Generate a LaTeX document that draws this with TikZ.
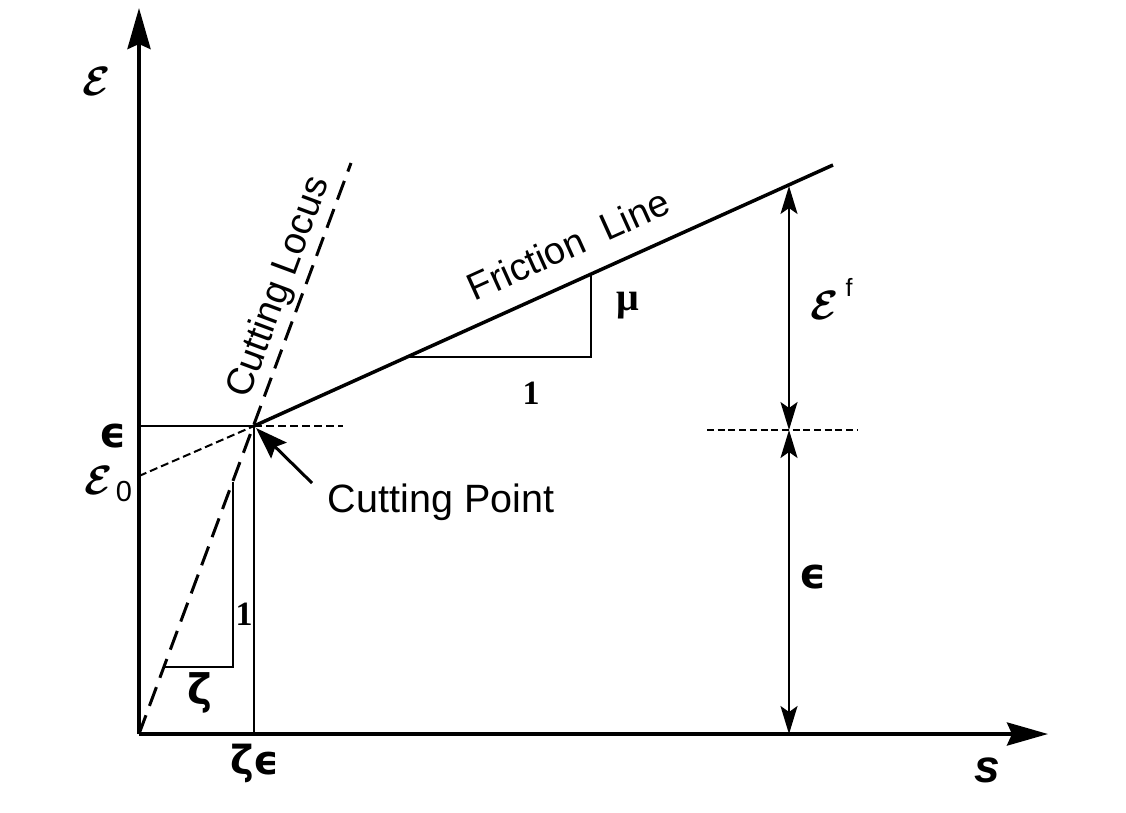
\documentclass[tikz,border=0pt]{standalone}
\usepackage{fontspec}
\usepackage{graphicx}
\usetikzlibrary{arrows.meta}
\newfontfamily\hv{Liberation Sans}
\newfontfamily\dv{DejaVu Sans}
\newfontfamily\tms{Liberation Serif}
\newcommand\calE{\scalebox{4.1}{\boldmath$\mathcal{E}$}}
\begin{document}
\begin{tikzpicture}[x=1pt,y=-1pt,
  axisline/.style={line width=4pt,-{Stealth[length=41pt,width=23pt,inset=5pt]}},
  thick line/.style={line width=3.5pt},
  thin line/.style={line width=2pt},
  locus/.style={line width=3pt,dash pattern=on 20pt off 10pt},
  thin dash/.style={line width=2pt,dash pattern=on 8pt off 4pt},
  fine dash/.style={line width=2pt,dash pattern=on 7pt off 3.7pt},
  dimarrow/.style={line width=2pt,{Stealth[length=28pt,width=17pt,inset=6pt]}-{Stealth[length=28pt,width=17pt,inset=6pt]}},
  pointer/.style={line width=3pt,-{Stealth[length=32pt,width=22pt,inset=5pt]}},
  txt/.style={inner sep=0pt,font=\hv\fontsize{38}{40}\selectfont},
  greek/.style={inner sep=0pt,font=\dv\bfseries\fontsize{42}{44}\selectfont},
  num/.style={inner sep=0pt,font=\tms\bfseries\fontsize{34}{36}\selectfont},
  lab/.style={inner sep=0pt}
]
\useasboundingbox (0,0) rectangle (1126,812);
% key points
\coordinate (O) at (139,734);
\coordinate (Ytip) at (139,8);
\coordinate (Xtip) at (1048,734);
\coordinate (CP) at (254,426);
\coordinate (E0) at (139,476);
\coordinate (Eleft) at (139,426);
\coordinate (CPfoot) at (254,734);
\coordinate (CPdash) at (343,426);
\coordinate (FLend) at (833,165);
\coordinate (CLend) at (351,163);
\coordinate (ZA) at (164,667);
\coordinate (ZB) at (233,667);
\coordinate (ZC) at (233,482);
\coordinate (MA) at (407,357);
\coordinate (MB) at (591,357);
\coordinate (MC) at (591,274);
\coordinate (DT) at (789,186);
\coordinate (DM) at (789,430);
\coordinate (DB) at (789,734);
\coordinate (RDa) at (707,430);
\coordinate (RDb) at (857,430);
\coordinate (PtrStart) at (312,483);
\coordinate (PtrEnd) at (256,428);

% axes
\draw[axisline] (O) -- (Ytip);
\draw[axisline] (O) -- (Xtip);

% cutting locus and friction line
\draw[locus] (O) -- (CLend);
\draw[thick line] (CP) -- (FLend);
\draw[thin dash] (E0) -- (CP);
\draw[thin line] (Eleft) -- (CP) -- (CPfoot);
\draw[thin dash] (CP) -- (CPdash);

% slope triangles
\draw[thin line] (ZA) -- (ZB) -- (ZC);
\draw[thin line] (MA) -- (MB) -- (MC);

% dimension arrows
\draw[fine dash] (RDa) -- (RDb);
\draw[dimarrow] (DM) -- (DT);
\draw[dimarrow] (DM) -- (DB);

% pointer to cutting point
\draw[pointer] (PtrStart) -- (PtrEnd);

% labels
\node[lab] (Laxis) at (97,81) {\calE};
\node[greek] (Leps) at (113,436) {ϵ};
\node[lab] (Leps0) at (99,480) {\calE};
\node[inner sep=0pt,font=\hv\fontsize{29}{32}\selectfont] (Lzero) at (124,492) {0};
\node[greek] (Lzeta) at (200,693) {ζ};
\node[num] (Lone) at (244,614) {1};
\node[greek,font=\dv\bfseries\fontsize{40}{42}\selectfont] (Lzeps) at (255,763) {ζϵ};
\node[txt,anchor=base,rotate=69.6] (Llocus) at (289,291) {Cutting Locus};
\node[txt,anchor=base,font=\hv\fontsize{39.5}{42}\selectfont] (Lpoint) at (441,512) {Cutting Point};
\node[txt,anchor=base,rotate=24.3] (Lfric) at (574,257) {Friction\ \ Line};
\node[inner sep=0pt,font=\tms\bfseries\fontsize{40}{42}\selectfont] (Lmu) at (628,306) {μ};
\node[num] (Lone2) at (531,393) {1};
\node[lab] (Lef) at (825,305) {\calE};
\node[inner sep=0pt,font=\hv\fontsize{25}{27}\selectfont] (Lf) at (849,287) {f};
\node[greek] (Leps2) at (813,577) {ϵ};
\node[inner sep=0pt,font=\hv\bfseries\itshape\fontsize{46}{50}\selectfont] (Ls) at (987,770) {s};
\end{tikzpicture}
\end{document}
